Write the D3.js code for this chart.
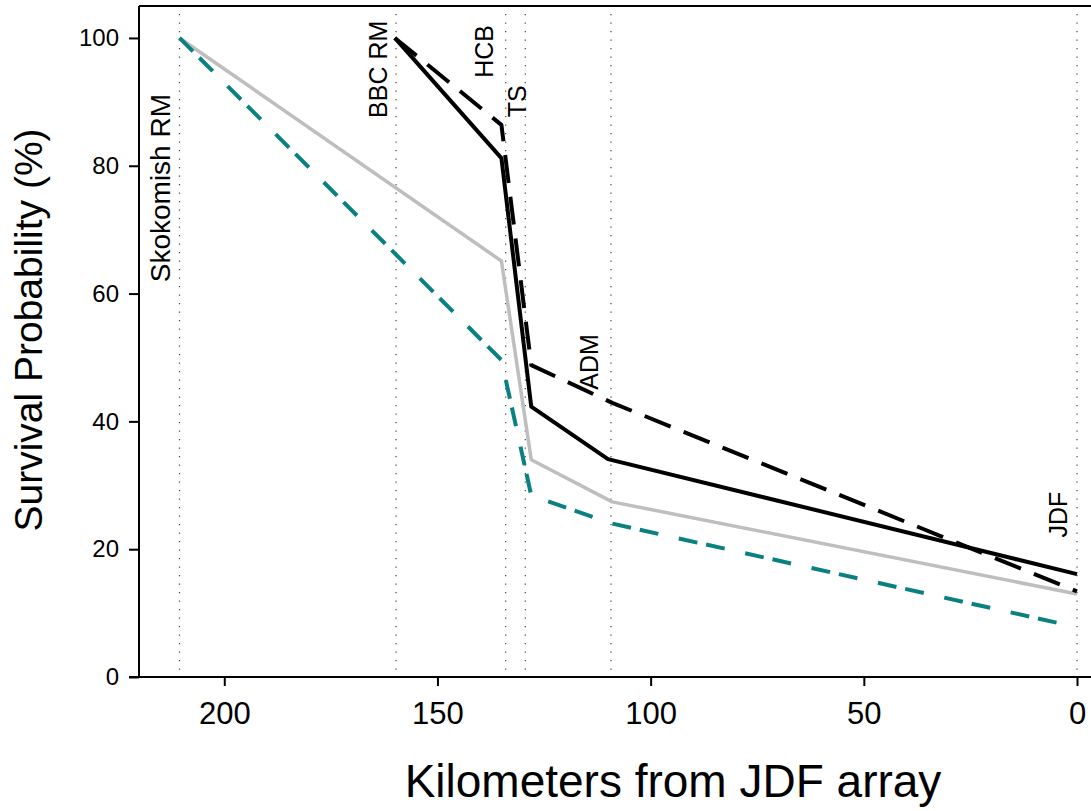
<!DOCTYPE html>
<html>
<head>
<meta charset="utf-8">
<script src="https://cdn.jsdelivr.net/npm/d3@7"></script>
<style>
  body { margin: 0; background: #fff; }
  text { font-family: "Liberation Sans", Arial, sans-serif; fill: #000; }
</style>
</head>
<body>
<div id="chart"></div>
<script>
// survival by km from JDF array, 4 groups
const blackSolidKm = [160, 135, 128, 110, 0];
const blackSolidVal = [100, 81.2, 42.3, 34.1, 16.1];

const blackDashKm = [160, 135, 128, 109, 0];
const blackDashVal = [100, 86.4, 48.8, 42.9, 13.4];

const greyKm = [210.5, 135, 128, 109, 0];
const greyVal = [100, 65.1, 34, 27.4, 13];

const tealKm = [210.5, 135, 128, 109, 0];
const tealVal = [100, 49.6, 28.4, 24, 7.8];

// receiver sites (dotted lines) and their labels
const siteNames = ["Skokomish RM", "BBC RM", "HCB", "TS", "ADM", "JDF"];
const siteKm = [210.5, 159.7, 134, 129.4, 109.3, 0];
const labelKm = [215, 164, 139, 131.4, 114.5, 4.5];
const labelVal = [76.5, 95.1, 97.9, 90.1, 49.3, 25.4];

const xTicks = [200, 150, 100, 50, 0];
const yTicks = [0, 20, 40, 60, 80, 100];

const svgWidth = 1091, svgHeight = 811;

const svg = d3.select("#chart").append("svg")
  .attr("width", svgWidth)
  .attr("height", svgHeight);

const x = d3.scaleLinear().domain([220, 0]).range([139, 1077]);
const y = d3.scaleLinear().domain([0, 105]).range([677, 6]);

// dotted site lines
svg.selectAll(".site")
  .data(siteKm)
  .enter()
  .append("line")
  .attr("x1", d => x(d)).attr("x2", d => x(d))
  .attr("y1", 14).attr("y2", y(0))
  .attr("stroke", "#444")
  .attr("stroke-width", 1.2)
  .attr("stroke-dasharray", "1.2,7.3");

svg.selectAll(".sitelab")
  .data(siteNames)
  .enter()
  .append("text")
  .attr("transform", (d, i) => `translate(${x(labelKm[i])},${y(labelVal[i])}) rotate(-90)`)
  .attr("text-anchor", "middle")
  .attr("dominant-baseline", "central")
  .attr("font-size", (d, i) => i === 0 ? 28 : 25)
  .text(d => d);

const line = d3.line().x(d => x(d[0])).y(d => y(d[1]));

function drawSeries(km, vals, color, width, dash) {
  svg.append("path")
    .datum(km.map((k, i) => [k, vals[i]]))
    .attr("d", line)
    .attr("fill", "none")
    .attr("stroke", color)
    .attr("stroke-width", width)
    .attr("stroke-dasharray", dash)
    .attr("stroke-linejoin", "round");
}

drawSeries(greyKm, greyVal, "#bebebe", 3.5, null);
drawSeries(tealKm, tealVal, "#0a8080", 4, "19,9,19,21");
drawSeries(blackDashKm, blackDashVal, "#000", 4, "28,14");
drawSeries(blackSolidKm, blackSolidVal, "#000", 4, null);

// box top + left, bottom axis
svg.append("line")
  .attr("x1", 139).attr("x2", svgWidth)
  .attr("y1", 6).attr("y2", 6)
  .attr("stroke", "#000").attr("stroke-width", 2);

const yAxis = svg.append("g")
  .attr("transform", "translate(139,0)")
  .call(d3.axisLeft(y).tickValues(yTicks).tickSize(10).tickPadding(10).tickSizeOuter(0));
yAxis.select(".domain").attr("stroke-width", 2).attr("d", `M0,${y(0)}V6`);
yAxis.selectAll(".tick line").attr("stroke-width", 2);
yAxis.selectAll("text").attr("font-size", 24).attr("font-family", "Liberation Sans, Arial, sans-serif");

const xAxis = svg.append("g")
  .attr("transform", `translate(0,${y(0)})`)
  .call(d3.axisBottom(x).tickValues(xTicks).tickSize(9).tickPadding(16).tickSizeOuter(0));
xAxis.select(".domain").attr("stroke-width", 2).attr("d", `M129,0H${svgWidth}`);
xAxis.selectAll(".tick line").attr("stroke-width", 2);
xAxis.selectAll("text").attr("font-size", 31).attr("font-family", "Liberation Sans, Arial, sans-serif");

// axis titles
svg.append("text")
  .attr("transform", "translate(42,330) rotate(-90)")
  .attr("text-anchor", "middle")
  .attr("font-size", 39)
  .text("Survival Probability (%)");

svg.append("text")
  .attr("x", 673)
  .attr("y", 797)
  .attr("text-anchor", "middle")
  .attr("font-size", 46)
  .text("Kilometers from JDF array");
</script>
</body>
</html>
